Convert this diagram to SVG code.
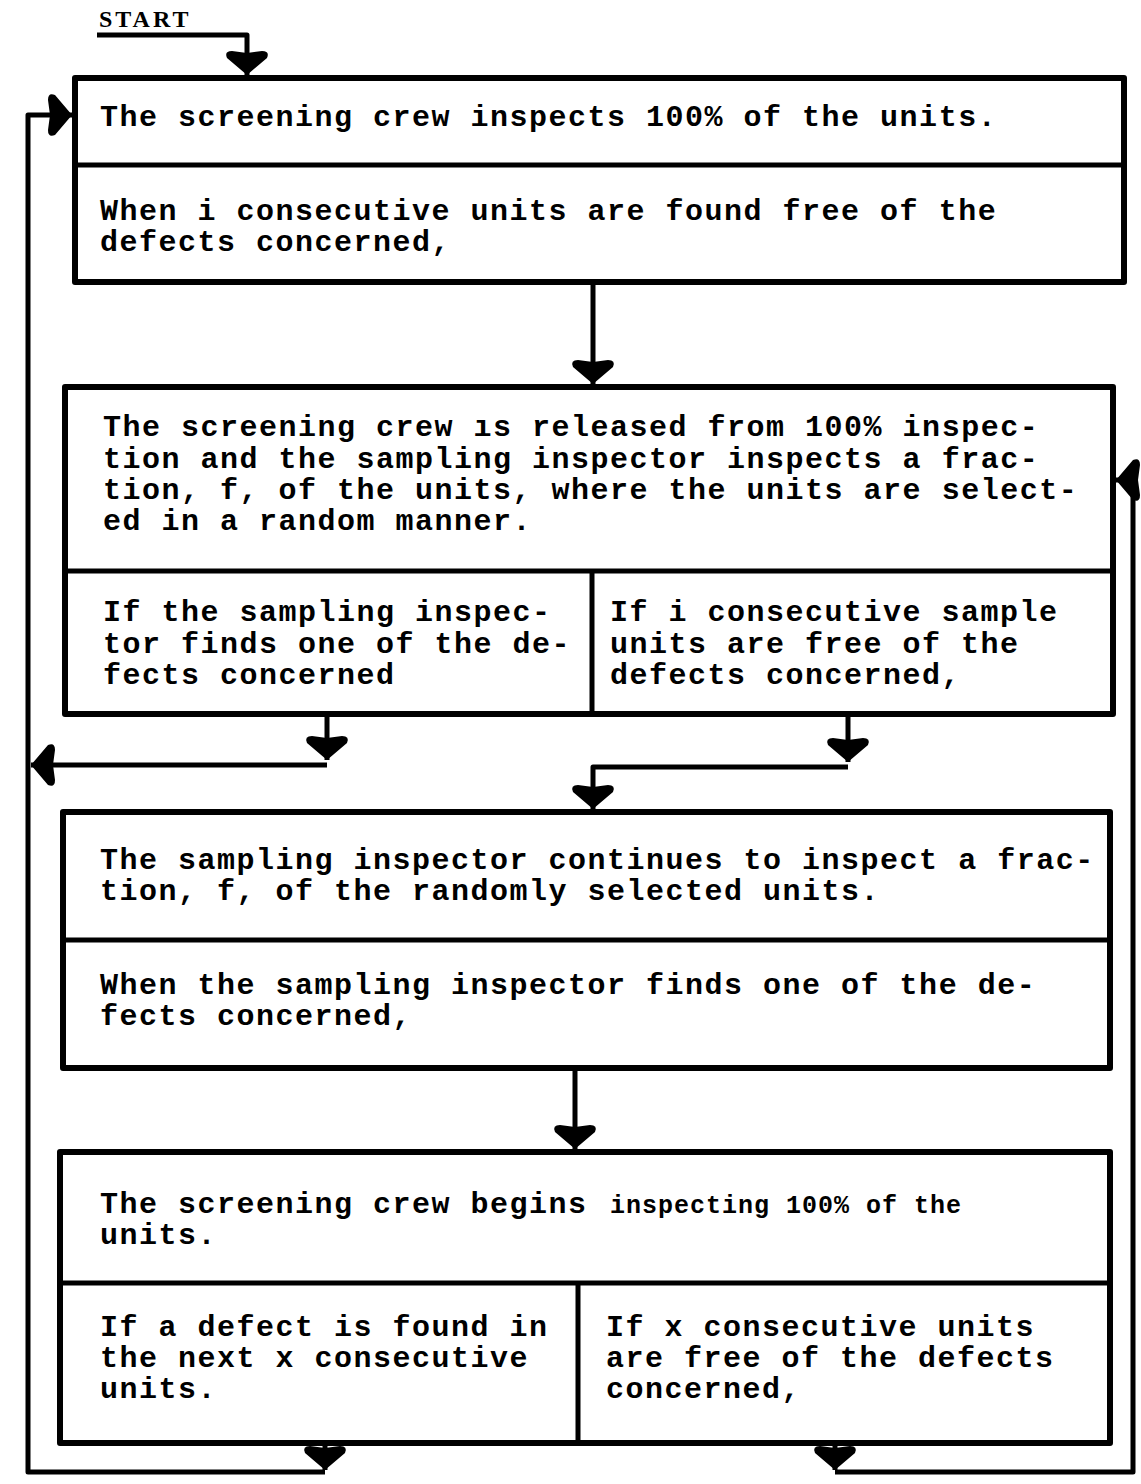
<svg xmlns="http://www.w3.org/2000/svg" width="1141" height="1484" viewBox="0 0 1141 1484">
<style>
.box{fill:#fff;stroke:#000;stroke-width:6;stroke-linejoin:round}
.div{stroke:#000;stroke-width:5;fill:none}
.con{stroke:#000;stroke-width:5;fill:none;stroke-linejoin:round}
.t{font-family:"Liberation Mono","DejaVu Sans Mono",monospace;font-weight:bold;font-size:30px;letter-spacing:1.5px;fill:#000}
.s{font-family:"Liberation Mono","DejaVu Sans Mono",monospace;font-weight:bold;font-size:25px;letter-spacing:1px;fill:#000}
.st{font-family:"Liberation Serif",serif;font-weight:bold;font-size:24px;letter-spacing:3px;fill:#000}
</style>
<defs>
<marker id="ah" markerUnits="userSpaceOnUse" viewBox="-26 -24 28 48" refX="0" refY="0" markerWidth="28" markerHeight="48" orient="auto">
<path d="M0,0 L-17,-20 Q-24,-23 -24,-15 L-22,0 L-24,15 Q-24,23 -17,20 Z" fill="#000"/>
</marker>
</defs>
<text class="st" x="99" y="27">START</text>
<g id="n1">
<rect class="box" x="75" y="78" width="1049" height="204"/>
<line class="div" x1="75" y1="165" x2="1124" y2="165"/>
<text class="t" x="100" y="126">The screening crew inspects 100% of the units.</text>
<text class="t" x="100" y="220">When i consecutive units are found free of the</text>
<text class="t" x="100" y="251">defects concerned,</text>
</g>
<g id="n2">
<rect class="box" x="65" y="387" width="1048" height="327"/>
<line class="div" x1="65" y1="571" x2="1113" y2="571"/>
<line class="div" x1="592" y1="571" x2="592" y2="714"/>
<text class="t" x="103" y="436">The screening crew ıs released from 100% inspec-</text>
<text class="t" x="103" y="468">tion and the sampling inspector inspects a frac-</text>
<text class="t" x="103" y="499">tion, f, of the units, where the units are select-</text>
<text class="t" x="103" y="530">ed in a random manner.</text>
<text class="t" x="103" y="621">If the sampling inspec-</text>
<text class="t" x="103" y="653">tor finds one of the de-</text>
<text class="t" x="103" y="684">fects concerned</text>
<text class="t" x="610" y="621">If i consecutive sample</text>
<text class="t" x="610" y="653">units are free of the</text>
<text class="t" x="610" y="684">defects concerned,</text>
</g>
<g id="n3">
<rect class="box" x="63" y="812" width="1047" height="256"/>
<line class="div" x1="63" y1="940" x2="1110" y2="940"/>
<text class="t" x="100" y="869">The sampling inspector continues to inspect a frac-</text>
<text class="t" x="100" y="900">tion, f, of the randomly selected units.</text>
<text class="t" x="100" y="994">When the sampling inspector finds one of the de-</text>
<text class="t" x="100" y="1025">fects concerned,</text>
</g>
<g id="n4">
<rect class="box" x="60" y="1152" width="1050" height="291"/>
<line class="div" x1="60" y1="1283" x2="1110" y2="1283"/>
<line class="div" x1="578" y1="1283" x2="578" y2="1443"/>
<text class="t" x="100" y="1213">The screening crew begins</text>
<text class="s" x="610" y="1213">inspecting 100% of the</text>
<text class="t" x="100" y="1244">units.</text>
<text class="t" x="100" y="1336">If a defect is found in</text>
<text class="t" x="100" y="1367">the next x consecutive</text>
<text class="t" x="100" y="1398">units.</text>
<text class="t" x="606" y="1336">If x consecutive units</text>
<text class="t" x="606" y="1367">are free of the defects</text>
<text class="t" x="606" y="1398">concerned,</text>
</g>
<g id="connectors">
<path class="con" d="M97,35 H247 V75" marker-end="url(#ah)"/>
<path class="con" d="M593,283 V384" marker-end="url(#ah)"/>
<path class="con" d="M327,714 V760" marker-end="url(#ah)"/>
<path class="con" d="M327,765 H31" marker-end="url(#ah)"/>
<path class="con" d="M848,714 V762" marker-end="url(#ah)"/>
<path class="con" d="M848,767 H593 V809" marker-end="url(#ah)"/>
<path class="con" d="M575,1068 V1149" marker-end="url(#ah)"/>
<path class="con" d="M325,1443 V1470" marker-end="url(#ah)"/>
<path class="con" d="M325,1472 H28 V115 H72" marker-end="url(#ah)"/>
<path class="con" d="M835,1443 V1470" marker-end="url(#ah)"/>
<path class="con" d="M835,1472 H1133 V480 H1116" marker-end="url(#ah)"/>
</g>
</svg>
